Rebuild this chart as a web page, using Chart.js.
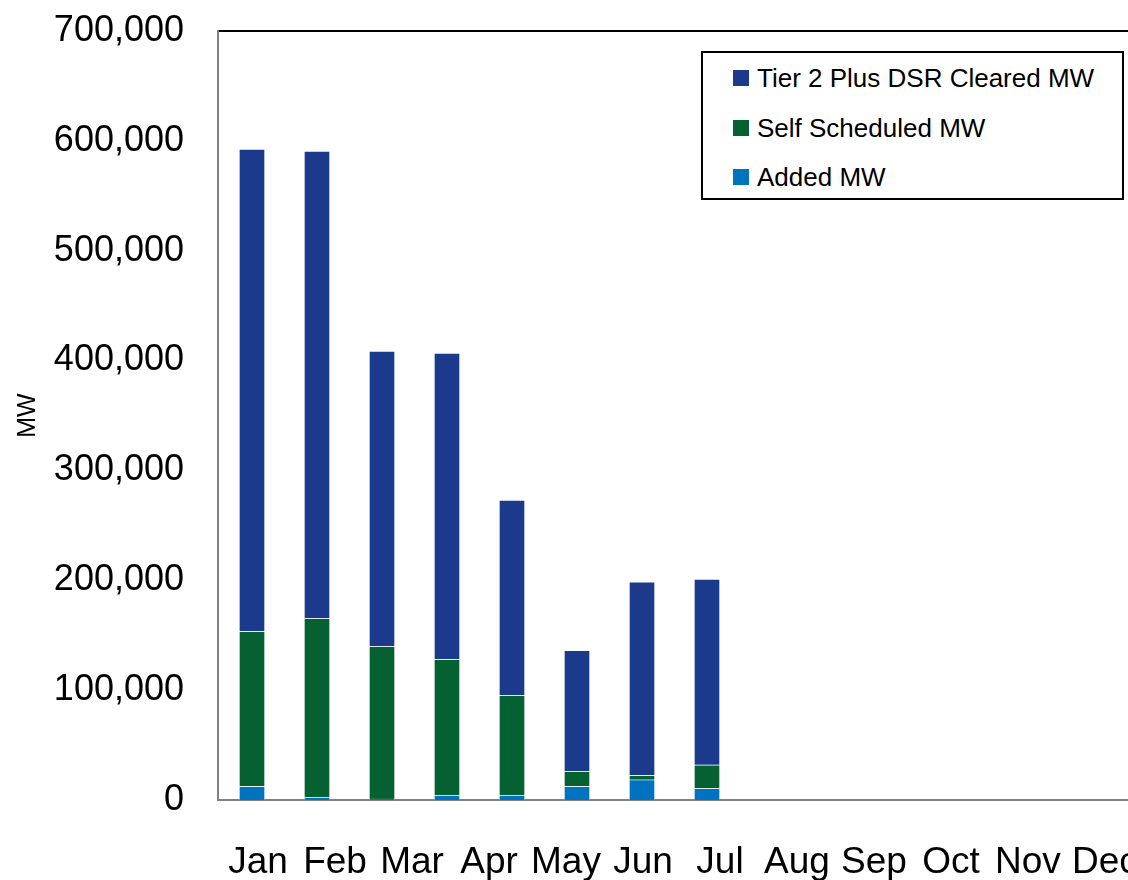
<!DOCTYPE html>
<html>
<head>
<meta charset="utf-8">
<script src="https://cdn.jsdelivr.net/npm/chart.js@4.4.1/dist/chart.umd.min.js"></script>
<style>
	html, body { margin: 0; padding: 0; background: #fff; overflow: hidden; }
	#wrap { position: relative; width: 1128px; height: 880px; }
	#legend {
		position: absolute; left: 701px; top: 51px; width: 423px; height: 149px;
		border: 2px solid #000; box-sizing: border-box; background: #fff;
		font-family: 'Liberation Sans Narrow', 'Liberation Sans', Arial, sans-serif;
		font-size: 26px; color: #000;
	}
	.item { position: absolute; left: 30px; height: 30px; display: flex; align-items: center; white-space: nowrap; }
	.sw { width: 16px; height: 16px; margin-right: 8px; flex: none; }
</style>
</head>
<body>
<div id="wrap">
	<canvas id="barChart" width="1128" height="880"></canvas>
	<div id="legend"></div>
</div>
<script>
const months = ['Jan', 'Feb', 'Mar', 'Apr', 'May', 'Jun', 'Jul', 'Aug', 'Sep', 'Oct', 'Nov', 'Dec'];
const addedMW = [12500, 2700, 1000, 4500, 4500, 12500, 18500, 10600, null, null, null, null];
const selfScheduledMW = [141100, 162700, 138900, 123600, 90800, 13600, 4000, 21500, null, null, null, null];
const tier2ClearedMW = [439000, 425400, 268800, 278800, 177800, 110200, 176200, 169100, null, null, null, null];
const yTicks = [0, 100000, 200000, 300000, 400000, 500000, 600000, 700000];

const FONT = "'Liberation Sans Narrow', 'Liberation Sans', Arial, sans-serif";

document.addEventListener('DOMContentLoaded', () => {
	const toPoints = arr => arr.map((v, i) => ({ x: i, y: v }));

	const datasets = [
		{ label: 'Added MW', data: toPoints(addedMW), backgroundColor: '#0073C0' },
		{ label: 'Self Scheduled MW', data: toPoints(selfScheduledMW), backgroundColor: '#066132' },
		{ label: 'Tier 2 Plus DSR Cleared MW', data: toPoints(tier2ClearedMW), backgroundColor: '#1B3A8B' }
	];
	datasets.forEach(ds => {
		ds.barThickness = 26;
		ds.borderWidth = 1;
		ds.borderColor = 'rgba(255,255,255,0.35)';
	});

	new Chart(document.getElementById('barChart'), {
		type: 'bar',
		data: { datasets },
		options: {
			responsive: false,
			animation: false,
			layout: { padding: { top: 31, right: 0, bottom: 0, left: 0 } },
			plugins: { legend: { display: false }, tooltip: { enabled: false } },
			scales: {
				x: {
					type: 'linear',
					stacked: true,
					offset: false,
					min: -0.523,
					max: 13.477,
					grid: { display: false, drawTicks: false, offset: false },
					ticks: { display: false },
					border: { display: true, color: '#808080', width: 2 },
					afterFit: s => { s.height = 0; s.paddingLeft = 0; s.paddingRight = 0; }
				},
				xLabels: {
					type: 'linear',
					position: 'bottom',
					offset: false,
					min: -0.52,
					max: 11.3,
					grid: { display: false, drawTicks: true, tickLength: 41, offset: false },
					border: { display: false },
					ticks: {
						stepSize: 1,
						includeBounds: false,
						padding: 0,
						maxRotation: 0,
						autoSkip: false,
						color: '#000',
						font: { family: FONT, size: 37 },
						callback: v => months[v] ?? ''
					},
					afterFit: s => { s.height = 80; s.paddingLeft = 0; s.paddingRight = 0; }
				},
				xTop: {
					type: 'linear',
					position: 'top',
					offset: false,
					min: 0,
					max: 1,
					grid: { display: false, drawTicks: false, offset: false },
					ticks: { display: false },
					border: { display: true, color: '#000', width: 2 },
					afterFit: s => { s.height = 0; s.paddingLeft = 0; s.paddingRight = 0; }
				},
				y: {
					stacked: true,
					min: 0,
					max: 700000,
					grid: { display: false, drawTicks: false },
					border: { display: true, color: '#808080', width: 2 },
					afterBuildTicks: s => { s.ticks = yTicks.map(v => ({ value: v })); },
					ticks: {
						padding: 34,
						color: '#000',
						font: { family: FONT, size: 36 },
						callback: v => v.toLocaleString('en-US')
					},
					title: {
						display: true,
						text: 'MW',
						color: '#000',
						font: { family: FONT, size: 25 },
						padding: { top: 13, bottom: 0 }
					},
					afterFit: s => { s.width = 218; s.paddingTop = 0; s.paddingBottom = 0; }
				}
			}
		}
	});

	// legend box, top series first
	const legend = document.getElementById('legend');
	const rowTops = [10, 60, 109];
	[...datasets].reverse().forEach((ds, i) => {
		const item = document.createElement('div');
		item.className = 'item';
		item.style.top = rowTops[i] + 'px';
		item.innerHTML = '<span class="sw" style="background:' + ds.backgroundColor + '"></span><span>' + ds.label + '</span>';
		legend.appendChild(item);
	});
});
</script>
</body>
</html>
